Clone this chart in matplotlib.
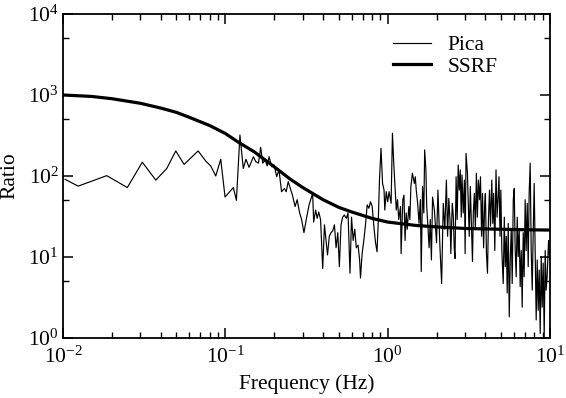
import matplotlib
matplotlib.use("Agg")
import matplotlib.pyplot as plt
from matplotlib.ticker import LogLocator, NullFormatter

plt.rcParams['font.family'] = ['Liberation Serif', 'DejaVu Serif']
plt.rcParams['mathtext.fontset'] = 'custom'
plt.rcParams['mathtext.rm'] = 'Liberation Serif'
plt.rcParams['mathtext.it'] = 'Liberation Serif:italic'
plt.rcParams['mathtext.bf'] = 'Liberation Serif:bold'

# ---- Pica (measured ratio) ----
pica_freq = [
    0.0103, 0.0124, 0.0186, 0.0249, 0.0308, 0.0373, 0.0436, 0.0495, 0.0557, 0.068,
    0.0757, 0.0813, 0.0873, 0.0937, 0.0996, 0.112, 0.117, 0.123,
    0.129, 0.134, 0.140, 0.149, 0.154, 0.160, 0.165, 0.170, 0.176, 0.181,
    0.186, 0.193, 0.200, 0.207, 0.214, 0.222, 0.231, 0.237, 0.244, 0.253,
    0.259, 0.269, 0.277, 0.286, 0.295, 0.305, 0.317, 0.328, 0.345, 0.35,
    0.36, 0.368, 0.376, 0.386, 0.398, 0.408, 0.417, 0.426, 0.437, 0.448,
    0.459, 0.47, 0.481, 0.493, 0.504, 0.516, 0.528, 0.541, 0.557, 0.57,
    0.586, 0.599, 0.613, 0.627, 0.641, 0.657, 0.672, 0.68, 0.696, 0.713,
    0.73, 0.748, 0.766, 0.784, 0.803, 0.822, 0.842, 0.86, 0.876, 0.89,
    0.91, 0.93, 0.95, 0.96, 0.98, 1.0, 1.02, 1.05, 1.07, 1.09,
    1.11, 1.13, 1.15, 1.17, 1.2, 1.21, 1.24, 1.26, 1.28, 1.30,
    1.32, 1.35, 1.37, 1.39, 1.42, 1.46, 1.48, 1.50, 1.53, 1.56,
    1.59, 1.61, 1.64, 1.67, 1.69, 1.72, 1.74, 1.77, 1.80, 1.83,
    1.86, 1.89, 1.94, 1.98, 2.0, 2.04, 2.08, 2.1, 2.15, 2.2,
    2.25, 2.3, 2.34, 2.38, 2.42, 2.45, 2.5, 2.54, 2.57, 2.6,
    2.64, 2.68, 2.72, 2.76, 2.8, 2.84, 2.87, 2.92, 2.97, 3.0,
    3.04, 3.1, 3.14, 3.18, 3.23, 3.28, 3.33, 3.37, 3.42, 3.47,
    3.52, 3.57, 3.62, 3.68, 3.73, 3.79, 3.84, 3.9, 3.96, 4.0,
    4.06, 4.12, 4.18, 4.24, 4.3, 4.38, 4.44, 4.50, 4.57, 4.65,
    4.72, 4.79, 4.85, 4.92, 4.98, 5.05, 5.15, 5.23, 5.3, 5.38,
    5.45, 5.53, 5.61, 5.69, 5.77, 5.85, 5.94, 6.02, 6.1, 6.19,
    6.28, 6.37, 6.46, 6.55, 6.65, 6.74, 6.84, 6.93, 7.03, 7.13,
    7.24, 7.34, 7.44, 7.55, 7.66, 7.77, 7.88, 7.99, 8.1, 8.22,
    8.34, 8.46, 8.58, 8.7, 8.83, 8.95, 9.08, 9.21, 9.34, 9.47,
    9.6, 9.8, 9.95,
]
pica_ratio = [
    91, 75, 101, 72, 148, 89, 124, 204, 139, 204,
    153, 133, 100, 161, 55, 72, 50, 320,
    124, 161, 128, 173, 150, 144, 226, 144, 158, 133,
    173, 130, 137, 98, 119, 64, 70, 64, 85, 67,
    58, 42, 51, 36, 29, 20, 31, 44, 61, 27,
    38, 30, 36, 29, 7.2, 25, 16, 10.6, 18, 20,
    21, 25, 13, 20, 7.6, 25, 31, 33, 30, 35,
    6.3, 31, 16, 22, 13, 14, 9.2, 5.5, 11, 16,
    25, 44, 40, 48, 42, 24, 15, 11.6, 29, 89,
    220, 81, 67, 38, 64, 48, 64, 46, 337, 144,
    74, 38, 51, 29, 42, 11, 51, 58, 16, 35,
    22, 42, 29, 74, 108, 81, 98, 67, 46, 26,
    51, 6.6, 74, 35, 210, 119, 42, 24, 13, 29,
    9.2, 55, 38, 20, 15, 67, 22, 13, 4.7, 46,
    22, 89, 18, 53, 29, 11, 46, 31, 13, 9.6,
    98, 29, 137, 67, 119, 31, 103, 35, 89, 11,
    190, 108, 42, 18, 74, 26, 8.8, 35, 61, 22,
    108, 31, 89, 51, 98, 18, 61, 13, 46, 61,
    11, 6.3, 31, 67, 24, 89, 26, 61, 12, 119,
    31, 55, 98, 18, 67, 12, 4.7, 31, 7.6, 18,
    3.6, 26, 1.83, 9.2, 22, 4.7, 51, 70, 13, 5.7,
    31, 10.1, 22, 4.3, 12, 2.4, 20, 5.7, 51, 12,
    46, 7.6, 61, 144, 12, 3.9, 20, 81, 12, 1.67,
    9.2, 2.2, 6.9, 1.14, 10.1, 2.4, 8.4, 1.04, 12, 3.9,
    5.7, 16, 9.2,
]

# ---- SSRF (model curve) ----
ssrf_freq = [0.01, 0.015, 0.02, 0.03, 0.04, 0.05, 0.06, 0.08, 0.1, 0.12,
             0.15, 0.2, 0.25, 0.3, 0.4, 0.5, 0.6, 0.8, 1.0, 1.5,
             2.0, 3.0, 5.0, 7.0, 10.0]
ssrf_ratio = [1000, 960, 900, 790, 690, 610, 530, 420, 335, 262,
              200, 130, 92, 72, 51, 41, 36, 30, 27, 24.5,
              23.5, 22.5, 22, 21.7, 21.5]

W, H = 566, 398
fig = plt.figure(figsize=(W / 100, H / 100), dpi=100)
ax = fig.add_axes([63 / W, 1 - 338 / H, (550 - 63) / W, (338 - 14) / H])

ax.plot(pica_freq, pica_ratio, color='black', lw=0.85, label='Pica')
ax.plot(ssrf_freq, ssrf_ratio, color='black', lw=2.3, label='SSRF')

ax.set_xscale('log')
ax.set_yscale('log')
ax.set_xlim(1e-2, 1e1)
ax.set_ylim(1e0, 1e4)

ax.yaxis.set_minor_locator(LogLocator(base=10, subs=(5.0,), numticks=20))
ax.yaxis.set_minor_formatter(NullFormatter())
ax.xaxis.set_minor_locator(LogLocator(base=10, subs=tuple(range(2, 10)), numticks=20))
ax.xaxis.set_minor_formatter(NullFormatter())

FS = 15.5
ax.tick_params(which='both', direction='in', top=True, right=True, labelsize=FS)
ax.tick_params(which='major', length=7, width=1.1)
ax.tick_params(which='minor', length=4, width=1.0)
ax.tick_params(axis='x', which='major', pad=6.5)
ax.tick_params(axis='y', which='major', pad=3)
for s in ax.spines.values():
    s.set_linewidth(1.3)

ax.set_xlabel('Frequency (Hz)', fontsize=FS, labelpad=4)
ax.set_ylabel('Ratio', fontsize=FS)
ax.yaxis.set_label_coords((19 - 63) / 487, 0.5)

leg = ax.legend(loc='upper left', frameon=False, fontsize=FS,
                handlelength=1.75, handletextpad=0.8, labelspacing=0.08,
                borderpad=0, borderaxespad=0,
                bbox_to_anchor=((393 - 63) / 487, 1 - (35 - 14) / 324))

fig.savefig('out.png', dpi=100)
